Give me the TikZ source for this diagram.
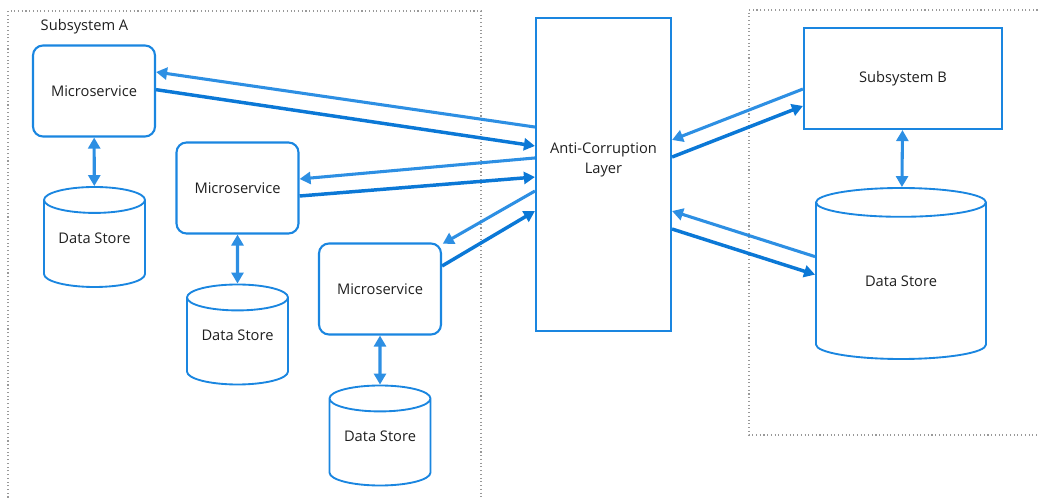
\documentclass[tikz,border=0pt]{standalone}
\usepackage{fontspec}
\setmainfont{Open Sans}
\usepackage{xcolor}
\usetikzlibrary{arrows.meta, positioning, shapes.geometric}
\definecolor{boxblue}{HTML}{1A86E0}
\definecolor{callblue}{HTML}{2D8FE3}
\definecolor{backblue}{HTML}{0B78D6}
\tikzset{
    >={Triangle[length=8.25pt, width=9pt]}, % filled arrow heads
    service/.style={draw=boxblue, line width=1.6pt, rounded corners=7.5pt, minimum width=91.5pt, minimum height=68.25pt, inner sep=0pt},
    store/.style={draw=boxblue, line width=1.4pt, cylinder, shape border rotate=90, aspect=0.36, anchor=shape center, minimum width=75.75pt, minimum height=75pt, inner sep=0pt, text height=8pt, text depth=9.2pt},
    layer/.style={draw=boxblue, line width=1.6pt, minimum width=101.25pt, minimum height=234.75pt, inner sep=0pt},
    frame/.style={draw=gray!80, line width=0.8pt, dotted},
    callarrow/.style={draw=callblue, line width=2.3pt, ->},
    backarrow/.style={draw=backblue, line width=2.6pt, ->},
    linkarrow/.style={draw=callblue, line width=2.3pt, <->},
}
\tikzstyle{label} = [font=\fontsize{11pt}{15pt}\selectfont, text=black!88]

\begin{document}
\begin{tikzpicture}[x=0.75pt, y=-0.75pt, every node/.append style={label}]
        \useasboundingbox (0,0) rectangle (1039,498);

        % Cornice del sottosistema A
        \draw[frame] (8,505) |- (481,11) -- (481,505);
        \node[anchor=west] (titlea) at (36,27) {Subsystem A};

        % Cornice del sottosistema B
        \draw[frame] (1045,10) -| (749,435) -- (1045,435);

        % Microservizi e archivi dati
        \node[service] (ms1) at (94,91) {Microservice};
        \node[store] (ds1) at (94.5,237) {Data Store};
        \node[service] (ms2) at (237.5,188) {Microservice};
        \node[store] (ds2) at (237.5,334.5) {Data Store};
        \node[service] (ms3) at (380,289) {Microservice};
        \node[store] (ds3) at (380,435.5) {Data Store};

        % Livello anti-corruzione
        \node[layer] (acl) at (603.5,174.5) {};
        \node[align=center] (acltext) at ([yshift=10.9pt]acl.center) {Anti-Corruption\\Layer};

        % Sottosistema B
        \node[layer, minimum width=148.5pt, minimum height=75.75pt] (sb) at (903,78.5) {Subsystem B};
        \node[store, minimum width=127.5pt, minimum height=128.25pt, aspect=0.4, text depth=0pt] (dsb) at (901,273.5) {Data Store};

        % Frecce tra microservizi e livello
        \draw[callarrow] ([yshift=35.6pt]acl.west) -- ([yshift=14.25pt]ms1.east);
        \draw[backarrow] ([yshift=1pt]ms1.east) -- ([yshift=21.4pt]acl.west);
        \draw[callarrow] ([yshift=12.4pt]acl.west) -- ([yshift=6.75pt]ms2.east);
        \draw[backarrow] ([yshift=-6pt]ms2.east) -- ([yshift=-1.9pt]acl.west);
        \draw[callarrow] ([yshift=-12.4pt]acl.west) -- ([xshift=0.5pt,yshift=-1pt]ms3.north east);
        \draw[backarrow] ([yshift=17.25pt]ms3.east) -- ([yshift=-27.4pt]acl.west);

        % Frecce verso il sottosistema B
        \draw[callarrow] ([yshift=-7.9pt]sb.west) -- ([yshift=25.9pt]acl.east);
        \draw[backarrow] ([yshift=13.1pt]acl.east) -- ([yshift=-20.6pt]sb.west);
        \draw[callarrow] ([yshift=18.4pt]dsb.west) -- ([yshift=-27.4pt]acl.east);
        \draw[backarrow] ([yshift=-40.9pt]acl.east) -- ([yshift=4.9pt]dsb.west);

        % Collegamenti con gli archivi
        \draw[linkarrow] (ms1) -- (ds1);
        \draw[linkarrow] (ms2) -- (ds2);
        \draw[linkarrow] (ms3) -- (ds3);
        \draw[linkarrow] (sb) -- (dsb);
    \end{tikzpicture}
\end{document}
